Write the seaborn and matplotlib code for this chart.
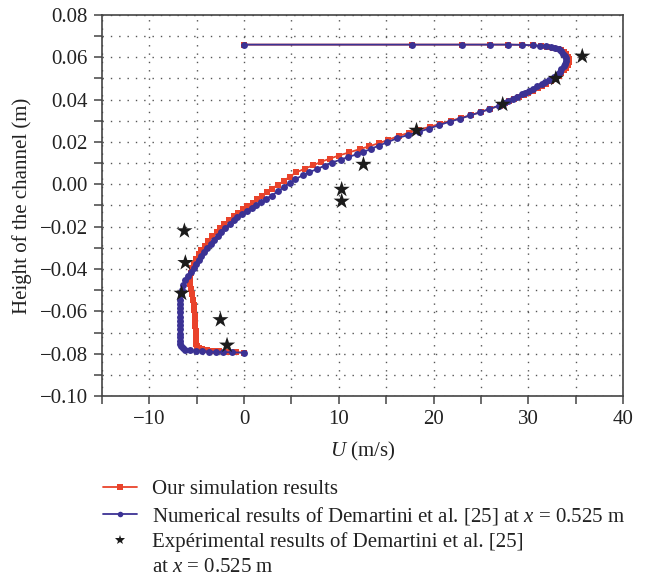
import numpy as np
import pandas as pd
import matplotlib
matplotlib.use("Agg")
import matplotlib.pyplot as plt
from matplotlib.lines import Line2D
from matplotlib.ticker import MultipleLocator, FuncFormatter
import seaborn as sns

# simulation (red squares)
red_u = [0.0, 17.7, 23.0, 26.0, 27.9, 29.3, 30.5, 31.3, 32.0, 32.6, 33.1, 33.5, 33.8, 34.0,
         34.2, 34.3, 34.3, 34.2, 34.0, 33.8, 33.5, 33.2, 32.8, 32.4, 31.9, 31.4, 31.0, 30.5,
         30.0, 29.5, 29.0, 28.5, 28.0, 27.5, 27.0, 26.0, 25.0, 24.0, 22.9, 21.8, 20.7, 19.6,
         18.5, 17.4, 16.3, 15.2, 14.2, 13.2, 12.2, 11.1, 10.0, 9.1, 8.1, 7.3, 6.4, 5.5, 4.8,
         4.2, 3.6, 2.9, 2.4, 1.9, 1.4, 0.9, 0.3, -0.1, -0.6, -1.1, -1.6, -2.1, -2.5, -2.9,
         -3.4, -3.8, -4.1, -4.5, -4.8, -5.1, -5.3, -5.5, -5.6, -5.7, -5.7, -5.6, -5.5, -5.4,
         -5.3, -5.3, -5.2, -5.2, -5.2, -5.1, -5.1, -5.1, -5.1, -5.0, -4.8, -4.4, -3.9, -3.3,
         -2.6, -1.8, -0.9, 0.0]
red_h = [0.0660, 0.0660, 0.0660, 0.0660, 0.0660, 0.0659, 0.0656, 0.0653, 0.0650, 0.0646,
         0.0641, 0.0634, 0.0625, 0.0614, 0.0602, 0.0590, 0.0577, 0.0564, 0.0551, 0.0538,
         0.0525, 0.0512, 0.0499, 0.0487, 0.0475, 0.0464, 0.0454, 0.0443, 0.0433, 0.0423,
         0.0413, 0.0403, 0.0393, 0.0382, 0.0372, 0.0357, 0.0342, 0.0328, 0.0314, 0.0300,
         0.0286, 0.0272, 0.0258, 0.0244, 0.0228, 0.0210, 0.0194, 0.0180, 0.0166, 0.0151,
         0.0136, 0.0122, 0.0106, 0.0090, 0.0074, 0.0056, 0.0036, 0.0016, -0.0002, -0.0020,
         -0.0038, -0.0055, -0.0070, -0.0086, -0.0102, -0.0118, -0.0134, -0.0150, -0.0169,
         -0.0188, -0.0207, -0.0226, -0.0246, -0.0267, -0.0289, -0.0308, -0.0331, -0.0353,
         -0.0375, -0.0397, -0.0420, -0.0445, -0.0470, -0.0495, -0.0520, -0.0545, -0.0570,
         -0.0595, -0.0620, -0.0645, -0.0670, -0.0695, -0.0715, -0.0735, -0.0752, -0.0765,
         -0.0775, -0.0780, -0.0783, -0.0786, -0.0789, -0.0791, -0.0793, -0.0795]

# numerical results of Demartini et al. (blue circles)
blue_u = [0.0, 17.7, 23.0, 26.0, 27.9, 29.3, 30.5, 31.2, 31.9, 32.4, 32.8, 33.2, 33.5, 33.7,
          33.9, 34.0, 34.0, 33.9, 33.8, 33.5, 33.3, 33.1, 32.7, 32.2, 31.8, 31.4, 30.9, 30.5,
          30.1, 29.7, 29.3, 28.8, 28.4, 27.9, 27.4, 26.9, 25.9, 24.9, 23.9, 22.8, 21.7, 20.6,
          19.5, 18.5, 17.3, 16.1, 15.1, 14.2, 13.4, 12.6, 11.9, 11.0, 10.2, 9.3, 8.5, 7.7,
          6.9, 6.2, 5.4, 4.8, 4.2, 3.6, 2.9, 2.3, 1.8, 1.3, 0.8, 0.3, -0.2, -0.7, -1.1, -1.5,
          -2.0, -2.4, -2.8, -3.2, -3.5, -3.9, -4.2, -4.5, -4.8, -5.1, -5.3, -5.6, -5.9, -6.2,
          -6.4, -6.6, -6.7, -6.8, -6.8, -6.8, -6.8, -6.8, -6.8, -6.8, -6.8, -6.8, -6.8, -6.8,
          -6.8, -6.7, -6.5, -6.2, -5.7, -5.1, -4.4, -3.7, -3.0, -2.2, -1.3, 0.0]
blue_h = [0.0660, 0.0660, 0.0660, 0.0660, 0.0660, 0.0659, 0.0657, 0.0655, 0.0652, 0.0649,
          0.0644, 0.0638, 0.0628, 0.0617, 0.0606, 0.0595, 0.0583, 0.0570, 0.0557, 0.0545,
          0.0532, 0.0520, 0.0507, 0.0495, 0.0483, 0.0472, 0.0463, 0.0452, 0.0441, 0.0433,
          0.0425, 0.0414, 0.0405, 0.0393, 0.0384, 0.0372, 0.0356, 0.0340, 0.0326, 0.0310,
          0.0296, 0.0280, 0.0263, 0.0249, 0.0233, 0.0217, 0.0198, 0.0183, 0.0167, 0.0154,
          0.0142, 0.0129, 0.0117, 0.0103, 0.0088, 0.0072, 0.0058, 0.0043, 0.0024, 0.0006,
          -0.0014, -0.0032, -0.0053, -0.0069, -0.0083, -0.0097, -0.0110, -0.0125, -0.0140,
          -0.0155, -0.0170, -0.0189, -0.0205, -0.0223, -0.0242, -0.0261, -0.0280, -0.0299,
          -0.0318, -0.0337, -0.0356, -0.0375, -0.0393, -0.0416, -0.0435, -0.0453, -0.0475,
          -0.0498, -0.0520, -0.0545, -0.0565, -0.0585, -0.0605, -0.0625, -0.0645, -0.0665,
          -0.0685, -0.0705, -0.0722, -0.0738, -0.0752, -0.0765, -0.0775, -0.0781, -0.0784,
          -0.0786, -0.0787, -0.0790, -0.0792, -0.0792, -0.0794, -0.0795]

# experimental results (stars)
exp_u = [35.7, 32.9, 27.3, 18.2, 12.6, 10.3, 10.3, -6.3, -6.2, -6.6, -2.5, -1.8]
exp_h = [0.0605, 0.0500, 0.0378, 0.0255, 0.0094, -0.0024, -0.0080, -0.0220, -0.0370,
         -0.0515, -0.0640, -0.0760]

labels = ["Our simulation results",
          "Numerical results of Demartini et al. [25] at $x$ = 0.525 m",
          "Expérimental results of Demartini et al. [25]",
          "at $x$ = 0.525 m"]

RED = "#e9432b"
BLUE = "#3b3294"


def fmt(v, decimals):
    if abs(v) < 1e-9:
        v = 0.0
    return f"{v:.{decimals}f}".replace("-", "\u2212")


sns.set_theme(style="ticks")
plt.rcParams["font.family"] = ["Liberation Serif", "DejaVu Serif"]
plt.rcParams["mathtext.fontset"] = "custom"
plt.rcParams["mathtext.rm"] = "Liberation Serif"
plt.rcParams["mathtext.it"] = "Liberation Serif:italic"

red = pd.DataFrame({"u": red_u, "h": red_h})
blue = pd.DataFrame({"u": blue_u, "h": blue_h})
exp = pd.DataFrame({"u": exp_u, "h": exp_h})

fig = plt.figure(figsize=(6.51, 5.81), dpi=100)
ax = fig.add_axes([0.1567, 0.3184, 0.8003, 0.6558])

sns.lineplot(data=red, x="u", y="h", sort=False, estimator=None, ax=ax, color=RED,
             lw=1.3, marker="s", markersize=4.6, markeredgewidth=0, zorder=3)
sns.lineplot(data=blue, x="u", y="h", sort=False, estimator=None, ax=ax, color=BLUE,
             lw=1.3, marker="o", markersize=5.0, markeredgewidth=0, zorder=4)
sns.scatterplot(data=exp, x="u", y="h", ax=ax, marker="*", s=150, color="#1b1b1b",
                edgecolor="none", zorder=5)

ax.set_xlim(-15, 40)
ax.set_ylim(-0.10, 0.08)
ax.xaxis.set_major_locator(MultipleLocator(10))
ax.xaxis.set_minor_locator(MultipleLocator(5))
ax.yaxis.set_major_locator(MultipleLocator(0.02))
ax.yaxis.set_minor_locator(MultipleLocator(0.01))
ax.yaxis.set_major_formatter(FuncFormatter(lambda v, p: fmt(v, 2)))
ax.xaxis.set_major_formatter(FuncFormatter(lambda v, p: fmt(v, 0)))

ax.grid(which="both", color="#555555", linestyle=(0, (1, 5)), linewidth=1.0)
ax.set_axisbelow(True)
for s in ax.spines.values():
    s.set_visible(True)
    s.set_color("#444444")
    s.set_linewidth(1.2)
ax.tick_params(which="both", direction="out", length=6, width=1.1, color="#444444",
               labelsize=15, labelcolor="#222222", pad=4)

ax.set_xlabel("$U$ (m/s)", fontsize=15, color="#222222", labelpad=8)
ax.set_ylabel("Height of the channel (m)", fontsize=15, color="#222222", labelpad=6)

handles = [
    Line2D([], [], color=RED, lw=1.3, marker="s", markersize=4, markeredgewidth=0),
    Line2D([], [], color=BLUE, lw=1.3, marker="o", markersize=4, markeredgewidth=0),
    Line2D([], [], color="#1b1b1b", lw=0, marker="*", markersize=7, markeredgewidth=0),
    Line2D([], [], lw=0, marker=None),
]
fig.legend(handles, labels, loc="upper left", bbox_to_anchor=(0.158, 0.175),
           frameon=False, fontsize=15, handlelength=1.65, handletextpad=0.7,
           labelspacing=0.27, borderpad=0, borderaxespad=0, labelcolor="#222222")

fig.savefig("out.png", dpi=100)
